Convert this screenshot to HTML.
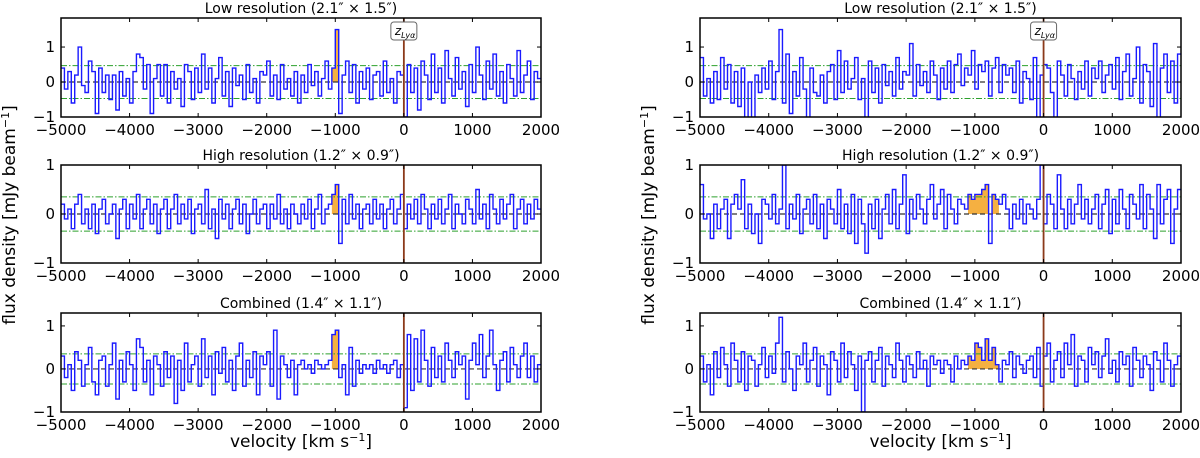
<!DOCTYPE html>
<html><head><meta charset="utf-8"><style>
html,body{margin:0;padding:0;background:#fff;}
svg{display:block;font-family:"DejaVu Sans","Liberation Sans",sans-serif;}
</style></head><body>
<svg id="fig" width="1200" height="458" viewBox="0 0 1200 458" xmlns="http://www.w3.org/2000/svg"></svg>
<script>
const channelWidth = 50;
const velStart = -5000;
const xTicks = [-5000,-4000,-3000,-2000,-1000,0,1000,2000];
const lowResLeft = [0.4,-0.2,0.3,-0.6,0.2,1.0,-0.1,-0.3,0.6,0.3,-0.9,0.4,-0.3,0.2,-0.5,0.2,-0.8,0.3,-0.4,0.1,-0.6,0.3,0.8,0.7,-0.2,0.5,-0.9,0.1,0.5,-0.4,0.5,-0.6,0.3,-0.2,0.1,-0.7,0.5,0.3,-0.5,0.4,-0.3,0.8,-0.2,0.4,-0.6,0.1,0.7,-0.4,0.3,-0.7,0.4,-0.1,0.2,-0.5,0.5,-0.3,0.1,-0.6,0.3,0.2,0.6,-0.4,0.2,-0.5,0.5,-0.2,0.1,-0.4,0.3,-0.6,0.2,-0.3,0.5,-0.1,0.3,-0.4,0.1,0.6,-0.2,0.4,1.5,-0.9,0.2,0.6,-0.3,0.5,-0.6,0.3,-0.2,0.4,-0.5,0.2,0.3,-0.4,0.6,-0.3,0.1,-0.6,0.3,0.2,-1.0,0.5,-0.3,0.4,-0.8,0.6,0.2,-0.5,0.8,-0.3,0.4,-0.6,0.9,0.1,-0.4,0.7,-0.2,0.3,-0.7,0.5,-0.3,1.0,0.2,-0.5,0.6,-0.2,0.8,-0.4,0.3,-0.6,0.5,0.1,-0.4,0.9,-0.3,0.2,0.6,-0.5,0.3,0.1];
const highResLeft = [0.2,-0.1,0.1,-0.3,0.2,0.4,-0.2,0.1,-0.3,0.2,-0.4,0.1,0.3,-0.2,0.0,0.2,-0.5,0.1,0.3,-0.3,0.2,-0.1,0.4,-0.3,0.1,0.3,-0.2,0.2,-0.4,0.1,0.3,-0.3,0.1,0.4,-0.2,0.2,-0.1,0.3,-0.4,0.1,0.2,-0.2,0.5,-0.3,0.1,-0.5,0.3,-0.1,0.2,-0.3,0.1,0.3,-0.2,0.2,-0.4,0.0,0.3,-0.2,0.1,0.2,-0.3,0.2,-0.1,0.4,-0.2,0.1,-0.3,0.2,0.0,-0.2,0.2,-0.1,0.3,-0.3,0.1,0.4,-0.2,0.1,0.2,0.4,0.6,-0.6,0.3,-0.2,0.4,-0.1,0.2,-0.3,0.1,0.2,-0.2,0.3,-0.1,0.2,-0.3,0.1,0.3,-0.2,0.1,0.4,-0.3,0.2,-0.1,0.3,-0.2,0.4,0.1,-0.3,0.2,-0.1,0.3,-0.2,0.1,0.4,-0.3,0.2,0.0,-0.2,0.3,0.1,-0.2,0.5,-0.1,0.2,-0.3,0.4,0.1,-0.2,0.3,-0.1,0.2,0.4,-0.3,0.1,0.3,-0.2,0.2,-0.1,0.3,0.1];
const combinedLeft = [0.3,-0.2,0.1,-0.5,0.4,0.2,-0.4,0.1,0.5,-0.3,-0.6,0.2,0.3,-0.4,0.1,0.6,-0.7,0.2,-0.3,0.4,0.1,-0.5,0.7,0.5,-0.3,0.2,-0.6,0.3,0.1,-0.4,0.4,-0.2,0.3,-0.8,0.2,-0.5,0.6,-0.3,0.1,0.3,-0.4,0.7,-0.2,0.3,-0.6,0.4,-0.1,0.5,-0.3,0.2,-0.5,0.3,0.6,-0.4,0.2,-0.2,0.4,-0.6,0.3,0.1,0.4,-0.4,0.9,-0.7,0.3,0.1,-0.2,0.2,-0.6,0.1,0.2,0.0,0.1,-0.1,0.2,0.1,0.0,0.1,0.2,0.8,0.9,-0.2,0.1,-0.6,0.5,-0.4,0.2,-0.1,0.1,0.0,0.1,-0.1,0.2,0.0,0.1,-0.1,0.1,0.2,-0.2,0.1,-0.9,0.8,-0.5,0.7,-0.3,0.9,0.2,-0.4,0.5,-0.2,0.3,-0.3,0.6,0.2,-0.2,0.4,0.1,0.3,-0.7,0.2,0.6,0.1,0.8,-0.2,0.3,0.9,0.1,-0.5,0.2,0.4,-0.3,0.5,0.1,-0.2,0.3,0.6,-0.2,0.3,-0.3,0.1];
const lowResRight = [0.7,-0.4,0.1,-0.6,0.3,-0.5,0.7,-0.2,0.5,-0.6,0.3,-0.7,0.4,-1.2,0.0,-1.1,0.2,-0.3,0.4,-0.2,0.6,-0.5,0.3,1.5,-0.6,0.8,-0.9,0.3,-0.4,0.7,-0.2,-1.1,0.4,-0.3,-0.4,0.2,-0.6,0.3,0.5,-0.5,0.9,-0.3,0.6,-0.2,0.1,0.7,-0.5,0.1,-1.2,0.6,-0.3,0.4,-0.6,0.5,-0.1,0.3,-0.4,0.7,-0.2,0.3,0.2,1.1,-0.4,0.5,-0.1,0.3,-0.3,0.6,0.2,-0.5,0.4,-0.2,0.6,-0.3,0.5,0.8,-0.1,0.4,0.2,0.9,-0.2,0.5,0.3,0.6,-0.4,0.4,0.7,-0.3,0.5,0.2,0.4,-0.3,0.6,-0.6,0.3,0.1,-0.5,0.7,-1.1,0.2,0.5,0.4,-0.3,-1.1,0.6,0.2,-0.4,0.5,0.1,-0.5,0.3,-0.2,0.6,-0.4,0.4,0.1,0.6,-0.3,0.2,0.5,-0.2,0.7,-0.5,0.3,0.8,-0.4,0.1,1.0,-0.6,0.5,0.3,-0.7,1.1,-1.2,0.4,0.8,-0.3,0.6,-0.6,0.8];
const highResRight = [0.6,-0.1,0.0,-0.5,0.2,-0.3,0.1,0.3,-0.5,0.2,0.4,0.1,0.7,-0.3,0.2,-0.4,0.0,-0.6,0.3,0.2,-0.1,0.4,-0.2,0.1,1.0,-0.3,0.2,-0.1,0.4,-0.4,0.1,0.3,-0.2,0.4,-0.3,0.2,-0.5,0.3,0.1,-0.2,0.5,-0.3,0.2,-0.4,0.4,-0.6,0.3,-0.2,-0.8,0.2,-0.3,0.3,-0.5,0.1,0.4,-0.2,0.5,-0.3,0.2,0.8,-0.4,0.3,-0.1,0.4,0.1,-0.2,0.3,0.6,-0.1,0.2,0.5,-0.3,0.4,0.1,-0.2,0.3,0.2,0.1,0.4,0.3,0.4,0.4,0.5,0.6,-0.6,0.4,0.3,0.2,0.4,0.1,-0.3,0.2,-0.1,0.3,-0.2,0.2,0.1,-0.1,0.3,1.0,-0.2,0.4,0.2,-0.3,0.8,0.1,-0.3,0.3,-0.2,0.2,0.6,-0.1,0.3,-0.2,0.1,0.4,-0.3,0.2,0.5,-0.4,0.3,-0.2,0.5,0.1,-0.3,0.4,0.2,-0.1,0.6,-0.3,0.4,0.1,-0.5,0.6,-0.2,0.3,0.5,-0.6,0.1,0.5];
const combinedRight = [0.3,-0.3,0.1,-0.6,0.4,-0.2,0.5,0.1,-0.4,0.6,0.2,-0.3,0.4,-0.5,0.3,0.2,-0.4,0.1,0.5,-0.2,0.3,-0.1,0.6,1.2,-0.3,0.4,0.0,-0.5,0.3,0.1,0.6,-0.3,0.2,0.5,-0.4,0.3,0.1,-0.6,0.4,0.2,-0.3,0.6,-0.2,0.4,0.1,-0.5,0.3,-1.0,0.2,0.4,-0.3,0.2,0.5,-0.4,0.3,0.1,-0.2,0.6,0.2,-0.3,0.3,0.1,-0.2,0.4,0.0,0.2,-0.4,0.3,0.1,0.2,-0.1,0.2,0.1,-0.3,0.3,0.0,0.2,0.1,0.3,0.2,0.6,0.5,0.2,0.7,0.2,0.5,0.1,-0.3,0.2,0.1,0.4,-0.2,0.3,0.1,-0.1,0.2,0.3,-0.2,0.5,-0.4,0.3,0.6,-0.3,0.2,0.4,-0.2,0.6,0.1,0.8,-0.4,0.3,0.2,-0.3,0.5,0.1,0.4,-0.2,0.3,0.7,-0.1,0.2,-0.3,0.4,0.1,0.3,-0.4,0.5,0.2,-0.2,0.3,0.1,-0.5,0.4,0.2,-0.3,0.6,0.2,-0.4,0.1,0.3];
const titles = ["Low resolution (2.1\u2033 \u00d7 1.5\u2033)","High resolution (1.2\u2033 \u00d7 0.9\u2033)","Combined (1.4\u2033 \u00d7 1.1\u2033)"];
const rmsLevels = [0.47,0.35,0.35];
const yMaxes = [1.83,1,1.3];
const orangeLeft = [[-1050,-950],[-1050,-950],[-1050,-950]];
const orangeRight = [null,[-1100,-650],[-1100,-650]];

const NS="http://www.w3.org/2000/svg";
const svg=document.getElementById('fig');
function mk(tag,attrs,parent){const e=document.createElementNS(NS,tag);for(const k in attrs)e.setAttribute(k,attrs[k]);(parent||svg).appendChild(e);return e;}
const cols=[{x0:61,x1:541},{x0:700,x1:1181}];
const rows=[{t:18,b:117},{t:165,b:263},{t:313,b:412}];
const series=[[lowResLeft,highResLeft,combinedLeft],[lowResRight,highResRight,combinedRight]];
const orange=[orangeLeft,orangeRight];
let cid=0;
cols.forEach((c,ci)=>{
 rows.forEach((r,ri)=>{
  const data=series[ci][ri];
  const ymin=-1,ymax=yMaxes[ri];
  const X=v=>c.x0+(v-(-5000))/7000*(c.x1-c.x0);
  const Y=f=>r.b-(f-ymin)/(ymax-ymin)*(r.b-r.t);
  const g=mk('g',{});
  
  
  const id='clip'+(cid++);
  const cp=mk('clipPath',{id:id},g);
  mk('rect',{x:c.x0,y:r.t,width:c.x1-c.x0,height:r.b-r.t},cp);
  const pg=mk('g',{'clip-path':'url(#'+id+')'},g);
  const orng=orange[ci][ri];
  if(orng){
   const [o0,o1]=orng;
   let fp='';
   data.forEach((f,i)=>{const v0=velStart+i*channelWidth,v1=v0+channelWidth;
     if(v0>=o0&&v1<=o1&&f>0){fp+=`M${X(v0)},${Y(0)}V${Y(f)}H${X(v1)}V${Y(0)}Z`;}});
   const fill=mk('path',{d:fp,fill:'#f5b041',stroke:'none'},pg);
   
   
  }
  const z=mk('line',{x1:c.x0,x2:c.x1,y1:Y(0),y2:Y(0),stroke:'#333','stroke-width':1.2,'stroke-dasharray':'5,3'},pg);
  
  
  [rmsLevels[ri],-rmsLevels[ri]].forEach(l=>{
    const gl=mk('line',{x1:c.x0,x2:c.x1,y1:Y(l),y2:Y(l),stroke:'#2ca02c','stroke-width':1,'stroke-dasharray':'6,2,1.5,2'},pg);
    
    
  });
  let d='';
  data.forEach((f,i)=>{const v0=velStart+i*channelWidth;d+=(i?'L':'M')+X(v0)+','+Y(f)+'H'+X(v0+channelWidth);});
  const sp=mk('path',{d:d,fill:'none',stroke:'#1a1aff','stroke-width':1.4},pg);
  
  
  const vl=mk('line',{x1:X(0),x2:X(0),y1:r.t,y2:r.b,stroke:'#8b3a1a','stroke-width':1.8},pg);
  
  
  const fr=mk('rect',{x:c.x0,y:r.t,width:c.x1-c.x0,height:r.b-r.t,fill:'none',stroke:'#000','stroke-width':1.5},g);
  
  
  xTicks.forEach(t=>{
    mk('line',{x1:X(t),x2:X(t),y1:r.b,y2:r.b-4,stroke:'#000'},g);
    mk('line',{x1:X(t),x2:X(t),y1:r.t,y2:r.t+4,stroke:'#000'},g);
    const tl=mk('text',{x:X(t),y:r.b+18,'font-size':15,'text-anchor':'middle',fill:'#000'},g);
    tl.textContent=(t<0?'\u2212'+(-t):''+t);
    
    
  });
  [-1,0,1].forEach(t=>{
    mk('line',{x1:c.x0,x2:c.x0+4,y1:Y(t),y2:Y(t),stroke:'#000'},g);
    mk('line',{x1:c.x1,x2:c.x1-4,y1:Y(t),y2:Y(t),stroke:'#000'},g);
    const tl=mk('text',{x:c.x0-6,y:Y(t)+5,'font-size':15,'text-anchor':'end',fill:'#000'},g);
    tl.textContent=(t<0?'\u22121':''+t);
    
    
  });
  const ti=mk('text',{x:(c.x0+c.x1)/2,y:r.t-5,'font-size':14,'text-anchor':'middle',fill:'#000'},g);
  ti.textContent=titles[ri];
  
  
  if(ri===0){
    const lg=mk('g',{},g);
    
    
    mk('rect',{x:X(0)-13,y:r.t+4,width:26,height:18,rx:3,fill:'#fff',stroke:'#666','stroke-width':1},lg);
    const tx=mk('text',{x:X(0)-9,y:r.t+17,'font-size':12,'font-style':'italic',fill:'#000'},lg);
    tx.innerHTML='z<tspan font-size="8" dy="3">Lyα</tspan>';
  }
 });
 const xl=mk('text',{x:(c.x0+c.x1)/2,y:447,'font-size':17,'text-anchor':'middle',fill:'#000'});
 xl.innerHTML='velocity [km s<tspan font-size="11" dy="-6">\u22121</tspan><tspan dy="6">]</tspan>';
 
 
 const yx=c.x0-46, yy=215;
 const yl=mk('text',{x:yx,y:yy,'font-size':17,'text-anchor':'middle',fill:'#000',transform:`rotate(-90 ${yx} ${yy})`});
 yl.innerHTML='flux density [mJy beam<tspan font-size="11" dy="-6">\u22121</tspan><tspan dy="6">]</tspan>';
 
 
});
</script>
</body></html>
